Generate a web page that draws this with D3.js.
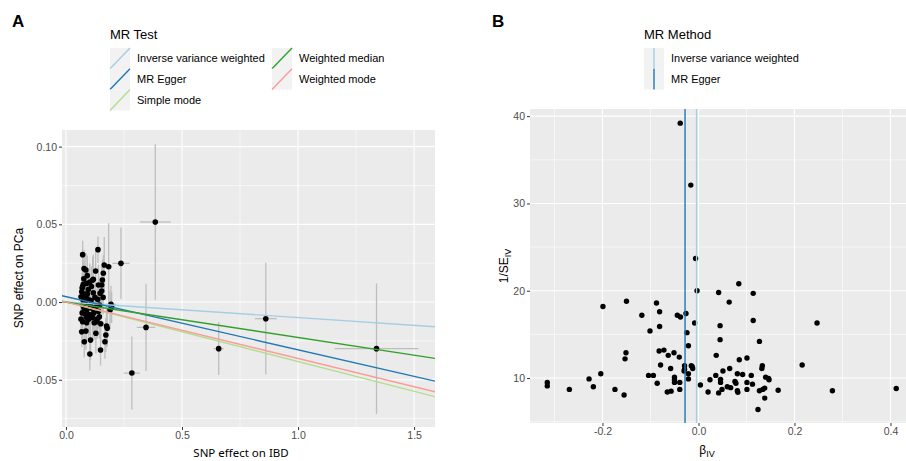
<!DOCTYPE html>
<html><head><meta charset="utf-8">
<script src="https://cdn.jsdelivr.net/npm/d3@7"></script>
<style>body{margin:0;background:#fff} svg{display:block} text{font-family:"Liberation Sans",Arial,sans-serif}</style>
</head><body><svg id="c" width="906" height="461"></svg>
<script>
// ---------- Panel A data: SNP effects ----------
const snpBetaExposure = [0.072,0.138,0.078,0.165,0.184,0.237,0.385,0.161,0.115,0.103,0.089,0.075,0.072,0.157,0.154,0.154,0.147,0.068,0.082,0.137,0.194,0.065,0.086,0.118,0.092,0.19,0.072,0.089,0.132,0.144,0.135,0.175,0.178,0.068,0.086,0.129,0.172,0.079,0.106,0.168,0.149,0.103,0.284,0.345,0.658,0.861,1.338,0.122,0.197,
 0.075,0.083,0.095,0.105,0.078,0.090,0.112,0.120,0.070,0.085,0.100,0.128,0.140,0.073,0.098,0.115,0.080,0.108,0.125,0.088,0.145,0.070,0.096,0.110,0.160,0.118,0.140,0.077,0.128,0.150,0.065,0.092];
const snpBetaOutcome = [0.0305,0.0337,0.0215,0.0238,0.0227,0.0249,0.0515,0.0185,0.0142,0.0129,0.012,0.0114,0.0098,0.0142,0.011,0.0071,0.0056,0.0066,0.0051,0.0017,-0.0015,0.0034,0.0206,0.0146,0.0051,-0.0051,-0.0127,-0.0133,-0.0127,-0.0095,-0.011,-0.0154,-0.0169,-0.0191,-0.0187,-0.0201,-0.0212,-0.0255,-0.0245,-0.0255,-0.0309,-0.0335,-0.0457,-0.0163,-0.030,-0.0107,-0.030,-0.0133,-0.0034,
 0.001,-0.001,0.002,-0.002,-0.004,-0.005,-0.004,-0.007,-0.007,-0.008,-0.008,-0.003,-0.006,-0.002,-0.011,-0.010,0.003,0.001,0.003,-0.010,-0.002,0.009,0.008,0.010,0.003,0.006,0.011,0.015,0.020,-0.014,-0.011,0.017];
const snpSeExposure = [0.006,0.008,0.007,0.010,0.012,0.037,0.066,0.009,0.008,0.007,0.006,0.006,0.006,0.010,0.009,0.010,0.009,0.005,0.006,0.009,0.022,0.005,0.006,0.008,0.006,0.010,0.006,0.006,0.009,0.009,0.008,0.011,0.010,0.005,0.006,0.008,0.010,0.006,0.007,0.010,0.009,0.007,0.035,0.040,0.022,0.047,0.180,0.008,0.012,
 0.006,0.006,0.007,0.007,0.006,0.006,0.007,0.008,0.005,0.006,0.007,0.008,0.009,0.006,0.007,0.008,0.006,0.007,0.008,0.006,0.009,0.005,0.007,0.007,0.010,0.008,0.009,0.006,0.009,0.009,0.005,0.007];
const snpSeOutcome = [0.009,0.0085,0.012,0.018,0.028,0.023,0.050,0.012,0.015,0.012,0.010,0.014,0.010,0.013,0.012,0.014,0.011,0.010,0.012,0.010,0.012,0.009,0.011,0.016,0.012,0.012,0.011,0.012,0.011,0.014,0.012,0.013,0.012,0.010,0.012,0.013,0.011,0.010,0.013,0.011,0.010,0.0105,0.0235,0.028,0.017,0.036,0.042,0.011,0.010,
 0.010,0.012,0.011,0.013,0.010,0.012,0.011,0.012,0.011,0.010,0.013,0.012,0.011,0.009,0.012,0.013,0.010,0.012,0.011,0.011,0.012,0.010,0.012,0.013,0.011,0.012,0.013,0.012,0.014,0.012,0.010,0.013];

// MR estimates (lines)
const mrTestMethods = ["Inverse variance weighted","MR Egger","Simple mode","Weighted median","Weighted mode"];
const mrTestIntercepts = [0, 0.0035, 0, 0, 0];
const mrTestSlopes = [-0.0100, -0.0342, -0.0383, -0.0228, -0.0363];

const axisATicksX = [0, 0.5, 1.0, 1.5];
const axisATicksY = [-0.05, 0.00, 0.05, 0.10];

// ---------- Panel B data: funnel plot ----------
const funnelBeta = [-0.038,-0.016,-0.006,-0.003,-0.199,-0.150,-0.0875,-0.118,-0.081,-0.044,-0.0375,-0.026,-0.008,-0.081,-0.101,-0.024,-0.021,-0.151,-0.153,-0.082,-0.072,-0.063,-0.051,-0.040,-0.079,-0.058,-0.029,-0.029,-0.030,-0.015,-0.013,-0.012,-0.021,-0.050,-0.050,-0.050,-0.021,-0.039,-0.104,-0.094,-0.086,-0.065,-0.057,-0.039,-0.2035,-0.228,-0.219,-0.269,-0.315,-0.315,-0.174,-0.155,0.004,
 0.084,0.042,0.114,0.064,0.045,0.114,0.247,0.045,0.127,0.037,0.085,0.101,0.216,0.133,0.132,0.065,0.051,0.081,0.092,0.110,0.140,0.146,0.147,0.024,0.036,0.046,0.046,0.049,0.042,0.020,0.060,0.067,0.076,0.078,0.081,0.082,0.101,0.101,0.1125,0.127,0.134,0.138,0.138,0.124,0.166,0.279,0.412];
const funnelInvSe = [39.2,32.1,23.7,20.0,18.2,18.8,18.6,17.2,17.6,17.2,17.0,17.4,16.3,15.9,15.4,15.2,13.7,12.9,12.2,13.1,13.2,12.6,12.9,12.4,11.5,11.1,11.4,11.0,10.8,11.4,11.3,11.1,10.5,10.1,9.8,9.5,9.9,9.5,10.3,10.3,9.4,8.4,8.5,8.7,10.5,9.9,9.0,8.7,9.5,9.1,8.7,8.05,9.2,
 20.8,19.8,19.7,18.7,16.0,16.6,16.3,14.4,14.2,12.6,12.1,12.3,11.5,11.4,11.1,11.1,10.8,10.5,10.4,10.3,10.1,9.96,9.8,9.8,10.3,9.85,9.5,8.7,8.3,8.4,9.0,8.9,9.6,9.4,8.55,8.36,9.5,8.7,9.3,8.55,8.7,8.85,7.7,6.4,8.6,8.55,8.8];
const funnelMethods = ["Inverse variance weighted","MR Egger"];
const funnelEstimates = [-0.004, -0.028];

const axisBTicksX = [-0.2, 0.0, 0.2, 0.4];
const axisBTicksY = [10, 20, 30, 40];

// ---------- styles ----------
const palette = {"Inverse variance weighted":"#A6CEE3","MR Egger":"#1F78B4","Simple mode":"#B2DF8A","Weighted median":"#33A02C","Weighted mode":"#FB9A99"};
const svg = d3.select("#c");
const defs = svg.append("defs");

function panel(x, y, xMajor, xMinor, yMajor, yMinor, id) {
  const [x0, x1] = x.range(), [y1, y0] = y.range();
  defs.append("clipPath").attr("id", id).append("rect")
    .attr("x", x0).attr("y", y0).attr("width", x1 - x0).attr("height", y1 - y0);
  const g = svg.append("g");
  g.append("rect").attr("x", x0).attr("y", y0).attr("width", x1 - x0).attr("height", y1 - y0).attr("fill", "#EBEBEB");
  const gg = g.append("g").attr("clip-path", `url(#${id})`);
  gg.selectAll(null).data(xMinor).join("line").attr("x1", d => x(d)).attr("x2", d => x(d)).attr("y1", y0).attr("y2", y1).attr("stroke", "#fff").attr("stroke-width", 0.55);
  gg.selectAll(null).data(yMinor).join("line").attr("y1", d => y(d)).attr("y2", d => y(d)).attr("x1", x0).attr("x2", x1).attr("stroke", "#fff").attr("stroke-width", 0.55);
  gg.selectAll(null).data(xMajor).join("line").attr("x1", d => x(d)).attr("x2", d => x(d)).attr("y1", y0).attr("y2", y1).attr("stroke", "#fff").attr("stroke-width", 1.1);
  gg.selectAll(null).data(yMajor).join("line").attr("y1", d => y(d)).attr("y2", d => y(d)).attr("x1", x0).attr("x2", x1).attr("stroke", "#fff").attr("stroke-width", 1.1);
  return gg;
}
function axes(x, y, tx, ty, fx, fy) {
  const ax = svg.append("g").attr("transform", `translate(0,${y.range()[0]})`)
    .call(d3.axisBottom(x).tickValues(tx).tickSize(3).tickPadding(2).tickFormat(fx));
  const ay = svg.append("g").attr("transform", `translate(${x.range()[0]},0)`)
    .call(d3.axisLeft(y).tickValues(ty).tickSize(3).tickPadding(2).tickFormat(fy));
  [ax, ay].forEach(a => {
    a.select(".domain").remove();
    a.selectAll("line").attr("stroke", "#333333").attr("stroke-width", 1);
    a.selectAll("text").attr("fill", "#4D4D4D").style("font-size", "10.5px").style("font-family", "Liberation Sans, Arial, sans-serif");
  });
}
function legend(x0, title, items, kind, col2) {
  svg.append("text").attr("x", x0).attr("y", 39).text(title).style("font-size", "13px").attr("fill", "#000");
  items.forEach((name, i) => {
    const col = col2 && i >= 3 ? 1 : 0, row = col ? i - 3 : i;
    const kx = x0 + col * 162, ky = 48 + row * 20.8;
    svg.append("rect").attr("x", kx).attr("y", ky).attr("width", 20).attr("height", 20.8).attr("fill", "#F2F2F2");
    if (kind === "abline") {
      svg.append("line").attr("x1", kx).attr("y1", ky + 20.8).attr("x2", kx + 20).attr("y2", ky).attr("stroke", palette[name]).attr("stroke-width", 1.4);
    } else {
      svg.append("line").attr("x1", kx + 10).attr("x2", kx + 10).attr("y1", ky).attr("y2", ky + 20.8).attr("stroke", palette[name]).attr("stroke-width", 1.4);
    }
    svg.append("text").attr("x", kx + 27).attr("y", ky + 14.2).text(name).style("font-size", "11px").attr("fill", "#000");
  });
}

// ---------- Panel A ----------
const xA = d3.scaleLinear().domain([-0.017, 1.59]).range([62, 435]);
const yA = d3.scaleLinear().domain([-0.0804, 0.1107]).range([427, 130]);
const gA = panel(xA, yA, axisATicksX, [0.25, 0.75, 1.25], axisATicksY, [-0.075, -0.025, 0.025, 0.075], "clipA");
const snps = snpBetaExposure.map((bx, i) => ({bx, by: snpBetaOutcome[i], sx: snpSeExposure[i], sy: snpSeOutcome[i]}));
gA.selectAll(null).data(snps).join("line")
  .attr("x1", d => xA(d.bx)).attr("x2", d => xA(d.bx)).attr("y1", d => yA(d.by - d.sy)).attr("y2", d => yA(d.by + d.sy))
  .attr("stroke", "#BEBEBE").attr("stroke-width", 1.3);
gA.selectAll(null).data(snps).join("line")
  .attr("y1", d => yA(d.by)).attr("y2", d => yA(d.by)).attr("x1", d => xA(d.bx - d.sx)).attr("x2", d => xA(d.bx + d.sx))
  .attr("stroke", "#BEBEBE").attr("stroke-width", 1.3);
gA.selectAll(null).data(snps).join("circle")
  .attr("cx", d => xA(d.bx)).attr("cy", d => yA(d.by)).attr("r", 2.8).attr("fill", "#000");
const fitLines = mrTestMethods.map((m, i) => ({m, a: mrTestIntercepts[i], b: mrTestSlopes[i]}));
const [dxa, dxb] = xA.domain();
gA.selectAll(null).data(fitLines).join("line")
  .attr("x1", xA(dxa)).attr("x2", xA(dxb))
  .attr("y1", d => yA(d.a + d.b * dxa)).attr("y2", d => yA(d.a + d.b * dxb))
  .attr("stroke", d => palette[d.m]).attr("stroke-width", 1.4);
axes(xA, yA, axisATicksX, axisATicksY, d => d.toFixed(1), d => d.toFixed(2));
svg.append("text").attr("x", 241).attr("y", 457).attr("text-anchor", "middle").text("SNP effect on IBD")
  .style("font-size", "11.5px").style("font-family", "Noto Sans, sans-serif").attr("fill", "#000");
svg.append("text").attr("transform", "translate(23,278) rotate(-90)").attr("text-anchor", "middle").text("SNP effect on PCa")
  .style("font-size", "12px").attr("fill", "#000");
svg.append("text").attr("x", 12).attr("y", 27).text("A").style("font-size", "17px").style("font-weight", "bold");
legend(110, "MR Test", mrTestMethods, "abline", true);

// ---------- Panel B ----------
const xB = d3.scaleLinear().domain([-0.351, 0.449]).range([530, 914]);
const yB = d3.scaleLinear().domain([4.85, 40.82]).range([423, 109]);
const gB = panel(xB, yB, axisBTicksX, [-0.3, -0.1, 0.1, 0.3], axisBTicksY, [5, 15, 25, 35], "clipB");
const fun = funnelBeta.map((b, i) => ({b, v: funnelInvSe[i]}));
gB.selectAll(null).data(fun).join("circle")
  .attr("cx", d => xB(d.b)).attr("cy", d => yB(d.v)).attr("r", 2.7).attr("fill", "#000");
const est = funnelMethods.map((m, i) => ({m, e: funnelEstimates[i]}));
gB.selectAll(null).data(est).join("line")
  .attr("x1", d => xB(d.e)).attr("x2", d => xB(d.e)).attr("y1", yB.range()[1]).attr("y2", yB.range()[0])
  .attr("stroke", d => palette[d.m]).attr("stroke-width", 1.4);
axes(xB, yB, axisBTicksX, axisBTicksY, d => d.toFixed(1).replace("\u2212", "-"), d => d);
const xl = svg.append("text").attr("x", 707).attr("y", 454).attr("text-anchor", "middle").style("font-size", "12px").attr("fill", "#000");
xl.append("tspan").text("β");
xl.append("tspan").text("IV").attr("dy", 3).style("font-size", "9px");
const yl = svg.append("text").attr("transform", "translate(508,266) rotate(-90)").attr("text-anchor", "middle").style("font-size", "12px").attr("fill", "#000");
yl.append("tspan").text("1/SE");
yl.append("tspan").text("IV").attr("dy", 3).style("font-size", "9px");
svg.append("text").attr("x", 492).attr("y", 27).text("B").style("font-size", "17px").style("font-weight", "bold");
legend(644, "MR Method", funnelMethods, "vline", false);
</script></body></html>
